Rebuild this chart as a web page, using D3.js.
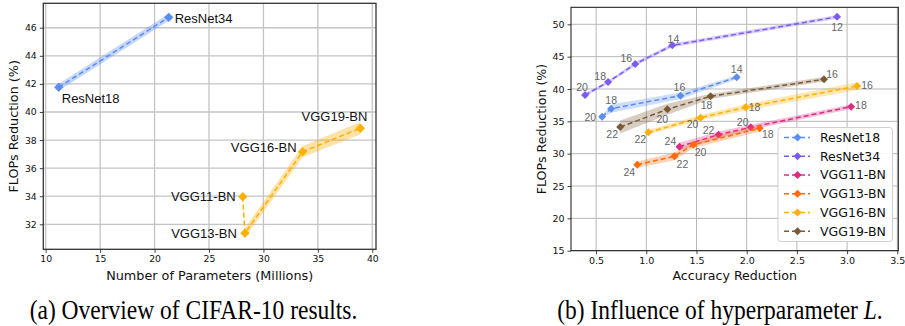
<!DOCTYPE html>
<html><head><meta charset="utf-8">
<script src="https://cdn.jsdelivr.net/npm/d3@7"></script>
<style>
html,body{margin:0;padding:0;background:#fff;}
svg{display:block;}
</style></head>
<body><svg id="fig" width="905" height="326"></svg>
<script>
// ---------- Data: panel (a) ----------
const leftModels = ["ResNet18","ResNet34","VGG11-BN","VGG13-BN","VGG16-BN","VGG19-BN"];
const leftParams = [11.2, 21.3, 28.1, 28.3, 33.6, 38.9];
const leftFlops  = [41.76, 46.74, 33.97, 31.37, 37.17, 38.84];
const leftSpread = [0.25, 0.25, 0, 0.35, 0.4, 0.45];
const leftGroups = [[0,1],[2,3,4,5]];
const leftXTicks = [10,15,20,25,30,35,40];
const leftYTicks = [32,34,36,38,40,42,44,46];

// ---------- Data: panel (b) ----------
const seriesNames = ["ResNet18","ResNet34","VGG11-BN","VGG13-BN","VGG16-BN","VGG19-BN"];
const resnet18L = [20,18,16,14];
const resnet18Acc = [0.56,0.65,1.34,1.90];
const resnet18Flops = [35.72,36.96,38.97,41.80];
const resnet18Spread = [0.2,0.65,0.5,0.3];
const resnet34L = [20,18,16,14,12];
const resnet34Acc = [0.39,0.62,0.89,1.26,2.90];
const resnet34Flops = [39.07,41.08,43.87,46.75,51.15];
const resnet34Spread = [0.25,0.25,0.3,0.3,0.3];
const vgg11L = [24,22,20,18];
const vgg11Acc = [1.33,1.72,2.04,3.04];
const vgg11Flops = [31.08,32.94,34.07,37.27];
const vgg11Spread = [0.6,0.5,0.4,0.35];
const vgg13L = [24,22,20,18];
const vgg13Acc = [0.91,1.28,1.47,2.13];
const vgg13Flops = [28.30,29.59,31.39,33.92];
const vgg13Spread = [0.5,0.6,0.5,0.5];
const vgg16L = [22,20,18,16];
const vgg16Acc = [1.02,1.54,1.99,3.10];
const vgg16Flops = [33.30,35.57,37.16,40.46];
const vgg16Spread = [0.35,0.4,0.5,0.6];
const vgg19L = [22,20,18,16];
const vgg19Acc = [0.74,1.21,1.64,2.77];
const vgg19Flops = [34.12,36.86,38.87,41.49];
const vgg19Spread = [1.0,0.85,0.4,0.35];
const rightXTicks = [0.5,1.0,1.5,2.0,2.5,3.0,3.5];
const rightYTicks = [15,20,25,30,35,40,45,50];

// ---------- styling / layout ----------
const seriesColors = ["#5b8def","#7b5cf0","#dd2d80","#ff6a0a","#ffb000","#7a5a36"];
const leftColors = ["#5b8def","#ffb000"];
// label offsets (px) for the L annotations in panel (b): [dx, dy, anchor]
const rightLabelOffsets = [
  [[-6,1,"end"],[0,-8,"middle"],[-1,-8,"middle"],[0,-8,"middle"]],
  [[-3,-8,"middle"],[-8,-6,"middle"],[-9,-6,"middle"],[1,-6,"middle"],[0,10,"middle"]],
  [[-9,-5,"middle"],[-10,-4,"middle"],[-8,-5,"middle"],[4,-1,"start"]],
  [[-8,8,"middle"],[8,8,"middle"],[7,8,"middle"],[8,6,"middle"]],
  [[-8,7,"middle"],[-8,7,"middle"],[3,0,"start"],[4,-1,"start"]],
  [[-8,7,"middle"],[-5,10,"middle"],[-4,9,"middle"],[8,-5,"middle"]]
];
const leftLabelOffsets = [[3,11,"start"],[6,1,"start"],[-7,0,"end"],[-8,0,"end"],[-6,-4,"end"],[7,-12,"end"]];

const rightSeries = [
  {L:resnet18L, acc:resnet18Acc, flops:resnet18Flops, sp:resnet18Spread},
  {L:resnet34L, acc:resnet34Acc, flops:resnet34Flops, sp:resnet34Spread},
  {L:vgg11L, acc:vgg11Acc, flops:vgg11Flops, sp:vgg11Spread},
  {L:vgg13L, acc:vgg13Acc, flops:vgg13Flops, sp:vgg13Spread},
  {L:vgg16L, acc:vgg16Acc, flops:vgg16Flops, sp:vgg16Spread},
  {L:vgg19L, acc:vgg19Acc, flops:vgg19Flops, sp:vgg19Spread}
];

const svg = d3.select("#fig");
const TICKFONT = "'DejaVu Sans', sans-serif";
const diamond = (r) => `M0,${-r}L${r},0L0,${r}L${-r},0Z`;

function panel(opts){
  const g = svg.append("g");
  const x = d3.scaleLinear().domain(opts.xDomain).range(opts.xRange);
  const y = d3.scaleLinear().domain(opts.yDomain).range(opts.yRange);
  g.append("g").selectAll("line").data(opts.xTicks).join("line")
    .attr("x1",d=>x(d)).attr("x2",d=>x(d)).attr("y1",opts.yRange[0]).attr("y2",opts.yRange[1])
    .attr("stroke",opts.gridColor).attr("stroke-width",opts.gridWidth);
  g.append("g").selectAll("line").data(opts.yTicks).join("line")
    .attr("y1",d=>y(d)).attr("y2",d=>y(d)).attr("x1",opts.xRange[0]).attr("x2",opts.xRange[1])
    .attr("stroke",opts.gridColor).attr("stroke-width",opts.gridWidth);
  const xa = g.append("g").attr("transform",`translate(0,${opts.yRange[0]})`)
    .call(d3.axisBottom(x).tickValues(opts.xTicks).tickSize(3.5).tickPadding(3).tickFormat(opts.xFmt));
  const ya = g.append("g").attr("transform",`translate(${opts.xRange[0]},0)`)
    .call(d3.axisLeft(y).tickValues(opts.yTicks).tickSize(3.5).tickPadding(3).tickFormat(opts.yFmt));
  [xa,ya].forEach(a=>{
    a.select(".domain").remove();
    a.selectAll("text").attr("font-family",TICKFONT).attr("font-size",opts.tickSize).attr("fill","#111");
    a.selectAll("line").attr("stroke","#111").attr("stroke-width",0.8);
  });
  g.append("text").attr("x",(opts.xRange[0]+opts.xRange[1])/2).attr("y",opts.xLabelY)
    .attr("text-anchor","middle").attr("font-family",TICKFONT).attr("font-size",opts.labelSize)
    .attr("fill","#111").text(opts.xLabel);
  g.append("text").attr("transform",`translate(${opts.yLabelX},${(opts.yRange[0]+opts.yRange[1])/2}) rotate(-90)`)
    .attr("text-anchor","middle").attr("font-family",TICKFONT).attr("font-size",opts.labelSize)
    .attr("fill","#111").text(opts.yLabel);
  const plot = g.append("g");
  const frame = () => g.append("rect").attr("x",opts.xRange[0]).attr("y",opts.yRange[1])
    .attr("width",opts.xRange[1]-opts.xRange[0]).attr("height",opts.yRange[0]-opts.yRange[1])
    .attr("fill","none").attr("stroke",opts.frameColor).attr("stroke-width",opts.frameWidth);
  return {g, plot, x, y, frame};
}

// ---------- Panel (a) ----------
const A = panel({
  xDomain:[9.78,40.34], xRange:[43.3,376], yDomain:[30.22,47.74], yRange:[249.3,3.3],
  xTicks:leftXTicks, yTicks:leftYTicks, xFmt:d3.format("d"), yFmt:d3.format("d"),
  gridColor:"#c4c4c4", gridWidth:1.3, tickSize:"9.3px", labelSize:"12.8px",
  xLabel:"Number of Parameters (Millions)", xLabelY:280, yLabel:"FLOPs Reduction (%)", yLabelX:18,
  frameColor:"#333", frameWidth:1.3
});
leftGroups.forEach((idx,gi)=>{
  const pts = idx.map(i=>({x:leftParams[i], y:leftFlops[i], s:leftSpread[i]}));
  A.plot.append("path").datum(pts)
    .attr("d", d3.area().x(d=>A.x(d.x)).y0(d=>A.y(d.y-d.s)).y1(d=>A.y(d.y+d.s)))
    .attr("fill",leftColors[gi]).attr("fill-opacity",0.35).attr("stroke","none");
  A.plot.append("path").datum(pts)
    .attr("d", d3.line().x(d=>A.x(d.x)).y(d=>A.y(d.y)))
    .attr("fill","none").attr("stroke",leftColors[gi]).attr("stroke-width",1.5).attr("stroke-dasharray","5,3");
  A.plot.append("g").selectAll("path").data(pts).join("path")
    .attr("transform",d=>`translate(${A.x(d.x)},${A.y(d.y)})`).attr("d",diamond(4.7))
    .attr("fill",leftColors[gi]);
});
A.plot.append("g").selectAll("text").data(leftModels).join("text")
  .attr("x",(d,i)=>A.x(leftParams[i])+leftLabelOffsets[i][0])
  .attr("y",(d,i)=>A.y(leftFlops[i])+leftLabelOffsets[i][1])
  .attr("dy","0.35em").attr("text-anchor",(d,i)=>leftLabelOffsets[i][2])
  .attr("font-family","'Liberation Sans', Arial, sans-serif").attr("font-size","13px").attr("fill","#111")
  .text(d=>d);
A.frame();

// ---------- Panel (b) ----------
const B = panel({
  xDomain:[0.25,3.51], xRange:[571,898.3], yDomain:[15,52.63], yRange:[250.7,7.3],
  xTicks:rightXTicks, yTicks:rightYTicks, xFmt:d3.format(".1f"), yFmt:d3.format("d"),
  gridColor:"#b8b8b8", gridWidth:1, tickSize:"9.5px", labelSize:"12.6px",
  xLabel:"Accuracy Reduction", xLabelY:280, yLabel:"FLOPs Reduction (%)", yLabelX:546,
  frameColor:"#111", frameWidth:1
});
rightSeries.forEach((s,si)=>{
  const pts = s.acc.map((a,i)=>({x:a, y:s.flops[i], sp:s.sp[i], L:s.L[i], o:rightLabelOffsets[si][i]}));
  B.plot.append("path").datum(pts)
    .attr("d", d3.area().x(d=>B.x(d.x)).y0(d=>B.y(d.y-d.sp)).y1(d=>B.y(d.y+d.sp)))
    .attr("fill",seriesColors[si]).attr("fill-opacity",0.3).attr("stroke","none");
  B.plot.append("path").datum(pts)
    .attr("d", d3.line().x(d=>B.x(d.x)).y(d=>B.y(d.y)))
    .attr("fill","none").attr("stroke",seriesColors[si]).attr("stroke-width",1.5).attr("stroke-dasharray","5,3");
  B.plot.append("g").selectAll("path").data(pts).join("path")
    .attr("transform",d=>`translate(${B.x(d.x)},${B.y(d.y)})`).attr("d",diamond(4))
    .attr("fill",seriesColors[si]);
  B.plot.append("g").selectAll("text").data(pts).join("text")
    .attr("x",d=>B.x(d.x)+d.o[0]).attr("y",d=>B.y(d.y)+d.o[1]).attr("dy","0.35em")
    .attr("text-anchor",d=>d.o[2])
    .attr("font-family","'Liberation Sans', Arial, sans-serif").attr("font-size","10.5px").attr("fill","#666")
    .text(d=>d.L);
});
B.frame();

// legend
const lg = svg.append("g").attr("transform","translate(778,127.5)");
lg.append("rect").attr("width",114.5).attr("height",114).attr("rx",3)
  .attr("fill","#fff").attr("fill-opacity",0.85).attr("stroke","#cfcfcf").attr("stroke-width",1);
seriesNames.forEach((n,i)=>{
  const yy = 10 + i*18.75;
  lg.append("line").attr("x1",6).attr("x2",32).attr("y1",yy).attr("y2",yy)
    .attr("stroke",seriesColors[i]).attr("stroke-width",1.5).attr("stroke-dasharray","5,3");
  lg.append("path").attr("transform",`translate(19.5,${yy})`).attr("d",diamond(4)).attr("fill",seriesColors[i]);
  lg.append("text").attr("x",42).attr("y",yy).attr("dy","0.35em")
    .attr("font-family",TICKFONT).attr("font-size","12.5px").attr("fill","#111").text(n);
});

// captions
const capFont = "'Liberation Serif', 'Times New Roman', serif";
svg.append("text").attr("transform","translate(193.5,319) scale(1,1.12)")
  .attr("text-anchor","middle").attr("font-family",capFont).attr("font-size","23.5px").attr("fill","#000")
  .text("(a) Overview of CIFAR-10 results.");
const capB = svg.append("text").attr("transform","translate(720,319) scale(1,1.12)")
  .attr("text-anchor","middle").attr("font-family",capFont).attr("font-size","23.5px").attr("fill","#000");
capB.append("tspan").text("(b) Influence of hyperparameter ");
capB.append("tspan").attr("font-style","italic").text("L");
capB.append("tspan").text(".");
</script>
</body></html>
